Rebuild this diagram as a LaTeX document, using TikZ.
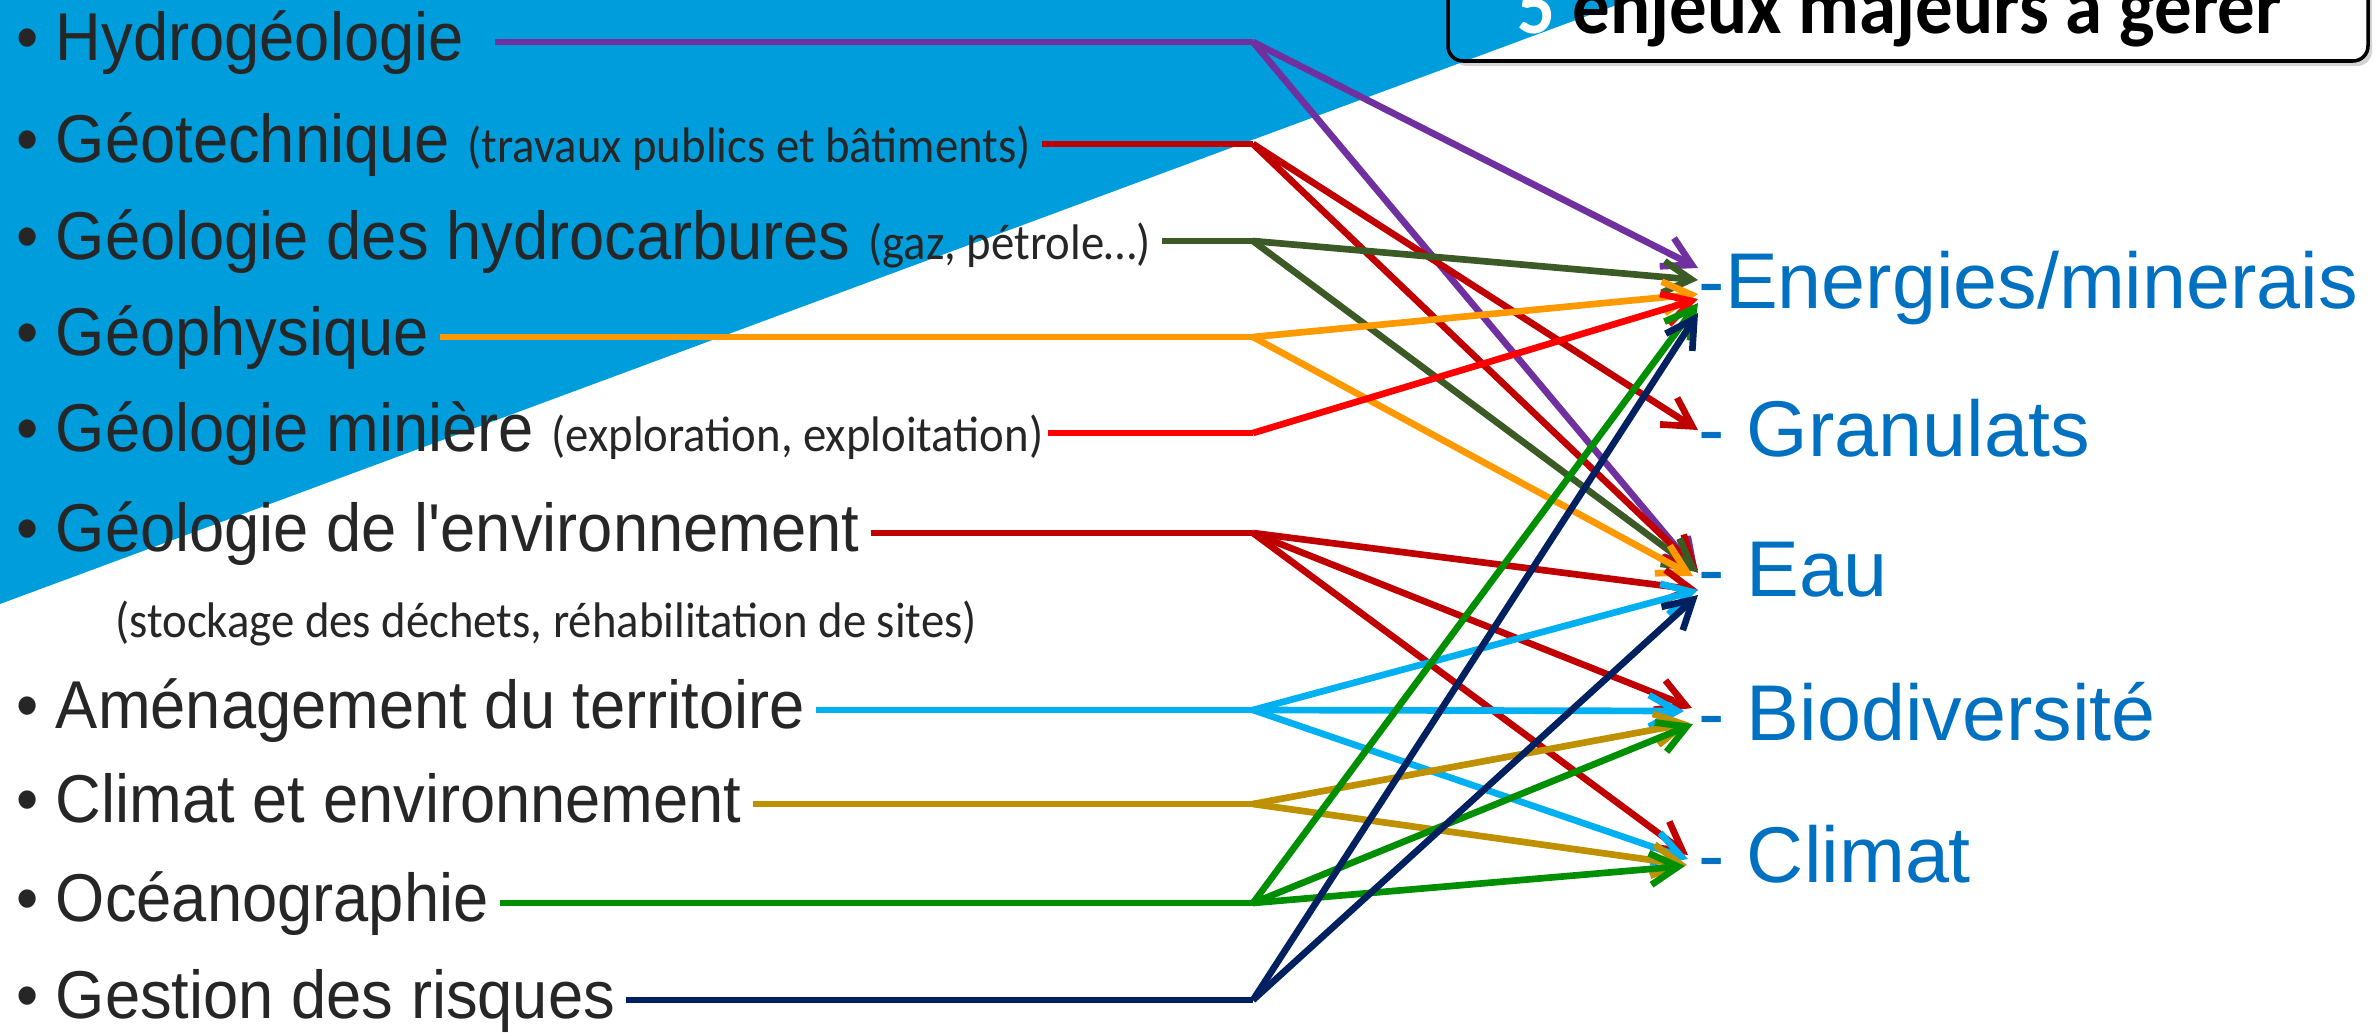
\documentclass[tikz,border=0pt]{standalone}
\usepackage{fontspec}
\usepackage{graphicx}
\usepackage{tikz}
\usetikzlibrary{arrows.meta,shadows}
\setmainfont{Liberation Sans}
\newfontfamily\notefont{Carlito}

\definecolor{fondbleu}{HTML}{009DDC}
\definecolor{textgray}{HTML}{262626}
\definecolor{enjeublue}{HTML}{0070C0}
\definecolor{colhydro}{HTML}{7030A0}
\definecolor{colgeotech}{HTML}{C00000}
\definecolor{colhydrocarb}{HTML}{3B5A26}
\definecolor{colgeophys}{HTML}{FF9900}
\definecolor{colminiere}{HTML}{FF0000}
\definecolor{colenv}{HTML}{C00000}
\definecolor{colamenag}{HTML}{00B0F0}
\definecolor{colclimat}{HTML}{BF9000}
\definecolor{coloceano}{HTML}{008F00}
\definecolor{colrisques}{HTML}{002060}

\tikzset{
	item/.style={anchor=base west, inner xsep=3pt, inner ysep=0pt, text=textgray, font=\fontsize{18}{20}\selectfont},
	note/.style={anchor=base west, inner xsep=3pt, inner ysep=0pt, text=textgray, font=\notefont\fontsize{13.3}{15}\selectfont},
	enjeu/.style={anchor=base west, inner sep=0pt, text=enjeublue, font=\fontsize{22.5}{26}\selectfont},
	fan/.style={line width=1.9pt, -{Straight Barb[length=8pt,width=9pt]}},
	stem/.style={line width=1.9pt}
}
\newcommand{\petit}[1]{{\notefont\fontsize{13.3}{15}\selectfont #1}}
\newcommand{\haut}[1]{\scalebox{1}[1.07]{#1}}

\begin{document}
\begin{tikzpicture}
			\useasboundingbox (0,0) rectangle (23.77,10.32);
			% title box and blue background
			\draw[draw=none, fill=white, rounded corners=0.15cm, drop shadow={shadow xshift=0.04cm, shadow yshift=-0.05cm, opacity=0.35}] (14.48,9.71) rectangle (23.68,11.0);
			\fill[fondbleu] (0,10.32) -- (16.3,10.32) -- (0,4.28) -- cycle;
			\draw[black, line width=1pt, rounded corners=0.15cm] (14.48,11.0) rectangle (23.68,9.71);
			\node[anchor=base, inner sep=0pt, font=\notefont\bfseries\fontsize{21.3}{24}\selectfont] (titre) at (19.0,9.99) {\haut{\textcolor{white}{5} enjeux majeurs à gérer}};

			% disciplines
			\node[item] (hydro) at (0.05,9.72) {\haut{• Hydrogéologie}};
			\node[item] (geotech) at (0.05,8.70) {\haut{• Géotechnique \petit{(travaux publics et bâtiments)}}};
			\node[item] (hydrocarb) at (0.05,7.73) {\haut{• Géologie des hydrocarbures \petit{(gaz, pétrole…)}}};
			\node[item] (geophys) at (0.05,6.77) {\haut{• Géophysique}};
			\node[item, inner xsep=1pt] (miniere) at (0.12,5.81) {\haut{• Géologie minière \petit{(exploration, exploitation)}}};
			\node[item] (env) at (0.05,4.81) {\haut{• Géologie de l\textquotesingle environnement}};
			\node[note] (envnote) at (1.04,3.95) {\haut{(stockage des déchets, réhabilitation de sites)}};
			\node[item] (amenag) at (0.05,3.04) {\haut{• Aménagement du territoire}};
			\node[item] (climat) at (0.05,2.10) {\haut{• Climat et environnement}};
			\node[item] (oceano) at (0.05,1.11) {\haut{• Océanographie}};
			\node[item] (risques) at (0.05,0.14) {\haut{• Gestion des risques}};

			% enjeux
			\node[enjeu] (energ) at (16.98,7.24) {-Energies/minerais};
			\node[enjeu] (granul) at (16.98,5.76) {- Granulats};
			\node[enjeu] (eau) at (16.98,4.36) {- Eau};
			\node[enjeu] (biodiv) at (16.98,2.92) {- Biodiversité};
			\node[enjeu] (clim) at (16.98,1.50) {- Climat};

			% junctions
			\coordinate (jhydro) at (12.53,9.90);
			\coordinate (jgeotech) at (12.53,8.88);
			\coordinate (jhydrocarb) at (12.53,7.91);
			\coordinate (jgeophys) at (12.53,6.95);
			\coordinate (jminiere) at (12.53,5.99);
			\coordinate (jenv) at (12.53,4.99);
			\coordinate (jamenag) at (12.53,3.22);
			\coordinate (jclimat) at (12.53,2.28);
			\coordinate (joceano) at (12.53,1.29);
			\coordinate (jrisques) at (12.53,0.32);

			\draw[stem, colhydro] (hydro.east |- jhydro) ++(0.2,0) -- (jhydro);
			\draw[fan, colhydro] (jhydro) -- ([yshift=.40cm]energ.base west);
			\draw[fan, colhydro] (jhydro) -- ([yshift=.23cm]eau.base west);

			\draw[stem, colgeotech] (geotech.east |- jgeotech) -- (jgeotech);
			\draw[fan, colgeotech] (jgeotech) -- ([yshift=.26cm]granul.base west);
			\draw[fan, colgeotech] (jgeotech) -- ([yshift=.26cm]eau.base west);

			\draw[stem, colhydrocarb] (hydrocarb.east |- jhydrocarb) -- (jhydrocarb);
			\draw[fan, colhydrocarb] (jhydrocarb) -- ([yshift=.28cm]energ.base west);
			\draw[fan, colhydrocarb] (jhydrocarb) -- ([yshift=.24cm]eau.base west);

			\draw[stem, colgeophys] (geophys.east |- jgeophys) -- (jgeophys);
			\draw[fan, colgeophys] (jgeophys) -- ([yshift=.14cm]energ.base west);
			\draw[fan, colgeophys] (jgeophys) -- ([xshift=-.05cm, yshift=.20cm]eau.base west);

			\draw[stem, colminiere] (miniere.east |- jminiere) -- (jminiere);
			\draw[fan, colminiere] (jminiere) -- ([yshift=.09cm]energ.base west);

			\draw[stem, colenv] (env.east |- jenv) -- (jenv);
			\draw[fan, colenv] (jenv) -- ([yshift=.06cm]eau.base west);
			\draw[fan, colenv] (jenv) -- ([xshift=-.06cm, yshift=.32cm]biodiv.base west);
			\draw[fan, colenv] (jenv) -- ([xshift=-.1cm, yshift=.27cm]clim.base west);

			\draw[stem, colamenag] (amenag.east |- jamenag) -- (jamenag);
			\draw[fan, colamenag] (jamenag) -- ([yshift=.06cm]eau.base west);
			\draw[fan, colamenag] (jamenag) -- ([xshift=-.14cm, yshift=.29cm]biodiv.base west);
			\draw[fan, colamenag] (jamenag) -- ([xshift=-.1cm, yshift=.23cm]clim.base west);

			\draw[stem, colclimat] (climat.east |- jclimat) -- (jclimat);
			\draw[fan, colclimat] (jclimat) -- ([xshift=-.08cm, yshift=.17cm]biodiv.base west);
			\draw[fan, colclimat] (jclimat) -- ([xshift=-.11cm, yshift=.17cm]clim.base west);

			\draw[stem, coloceano] (oceano.east |- joceano) -- (joceano);
			\draw[fan, coloceano] (joceano) -- ([yshift=.05cm]energ.base west);
			\draw[fan, coloceano] (joceano) -- ([xshift=-.05cm, yshift=.16cm]biodiv.base west);
			\draw[fan, coloceano] (joceano) -- ([xshift=-.13cm, yshift=.16cm]clim.base west);

			\draw[stem, colrisques] (risques.east |- jrisques) -- (jrisques);
			\draw[fan, colrisques] (jrisques) -- ([yshift=-.05cm]energ.base west);
			\draw[fan, colrisques] (jrisques) -- ([yshift=.01cm]eau.base west);
\end{tikzpicture}
\end{document}
